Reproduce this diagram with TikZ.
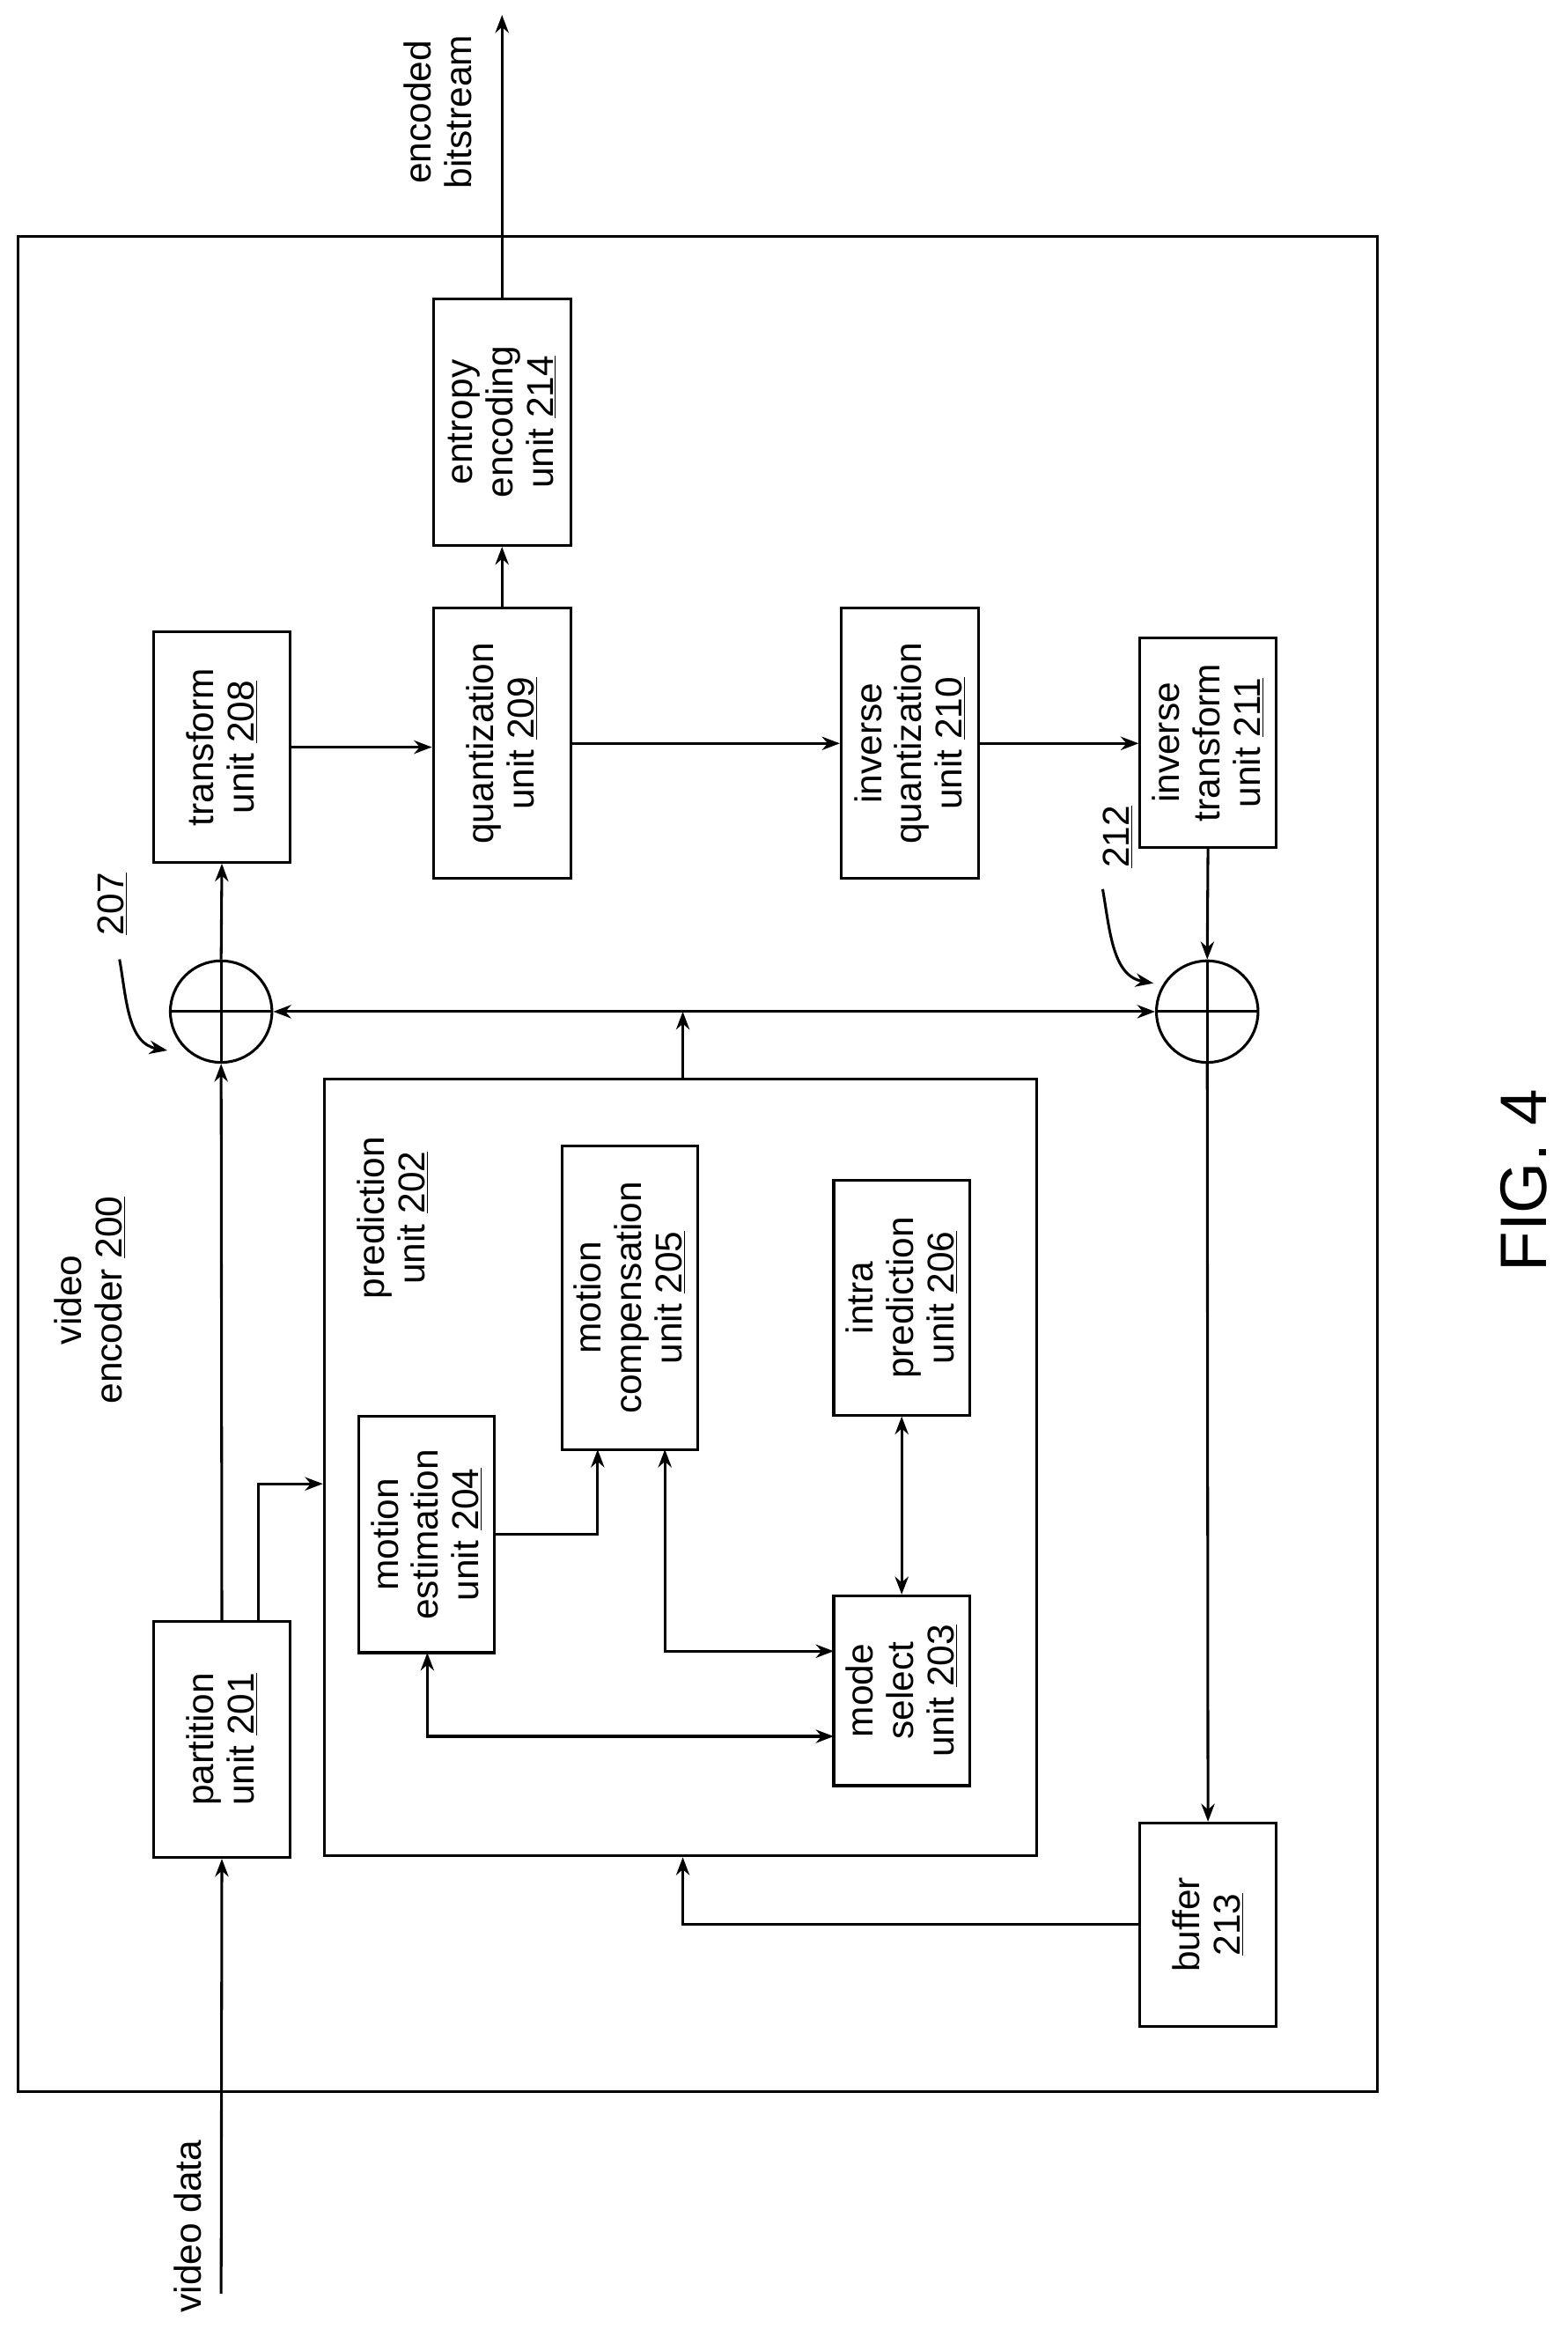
\documentclass[tikz,border=0pt]{standalone}
\usepackage{fontspec}
\setmainfont{Liberation Sans}
\usetikzlibrary{arrows.meta}
\begin{document}
\begin{tikzpicture}[x=1pt,y=-1pt,line width=1.8pt,
 >={Stealth[length=12pt,width=9pt]},
 box/.style={draw,rotate=90,align=center,font=\fontsize{25}{27}\selectfont,inner sep=2pt},
 lbl/.style={rotate=90,align=center,font=\fontsize{25}{27}\selectfont},
 sum/.style={draw,circle,minimum size=68pt,inner sep=0pt}]
\useasboundingbox (0,0) rectangle (1049,1568);
\node[draw,minimum width=910pt,minimum height=1242pt,inner sep=0] (enc) at (467,779) {};
\node[box,minimum width=158pt,minimum height=91pt] (p201) at (148.5,1164) {partition\\unit \underline{201}};
\node[box,minimum width=154pt,minimum height=91pt] (t208) at (148.5,500) {transform\\unit \underline{208}};
\node[box,minimum width=181pt,minimum height=92pt] (q209) at (336,497.5) {quantization\\unit \underline{209}};
\node[box,minimum width=165pt,minimum height=92pt] (e214) at (336,282.5) {entropy\\encoding\\unit \underline{214}};
\node[box,minimum width=181pt,minimum height=92pt] (iq210) at (609,497.5) {inverse\\quantization\\unit \underline{210}};
\node[box,minimum width=140pt,minimum height=91pt] (it211) at (808.5,497) {inverse\\transform\\unit \underline{211}};
\node[box,minimum width=136pt,minimum height=91pt] (b213) at (808.5,1288) {buffer\\\underline{213}};
\node[box,minimum width=520pt,minimum height=477pt,inner sep=0] (pred) at (455.5,982) {};
\node[lbl] (predl) at (263,815) {prediction\\unit \underline{202}};
\node[box,minimum width=158pt,minimum height=91pt] (me204) at (285.5,1027) {motion\\estimation\\unit \underline{204}};
\node[box,minimum width=203pt,minimum height=91pt] (mc205) at (421.5,868.5) {motion\\compensation\\unit \underline{205}};
\node[box,minimum width=157pt,minimum height=91pt] (ip206) at (603.5,868.5) {intra\\prediction\\unit \underline{206}};
\node[box,minimum width=127pt,minimum height=91pt] (ms203) at (603.5,1131.5) {mode\\select\\unit \underline{203}};
\node[sum] (s207) at (148,677) {};
\node[sum] (s212) at (808,677) {};
\draw (s207.north)--(s207.south) (s207.west)--(s207.east);
\draw (s212.north)--(s212.south) (s212.west)--(s212.east);
\node[lbl] (l207) at (75,605) {\underline{207}};
\node[lbl] (l212) at (748,560) {\underline{212}};
\node[lbl] (enl) at (60,870) {video\\encoder \underline{200}};
\node[lbl] (vdl) at (126,1490) {video data};
\node[lbl] (ebl) at (293,75) {encoded\\bitstream};
\node[rotate=90,font=\fontsize{44}{44}\selectfont] (fig) at (1020,790) {FIG. 4};
\coordinate (vin) at (148,1535);
\coordinate (eout) at (336,10);
\draw[->] (vin) -- (p201.west);
\draw[->] (p201.east) -- (s207.south);
\draw[->] (s207.north) -- (t208.west);
\draw[->] (173,1085) |- (pred.north |- 0,993);
\draw[->] (t208.south) -- (q209.north |- t208.south);
\draw[->] (q209.south) -- (iq210.north);
\draw[->] (iq210.south) -- (it211.north |- iq210.south);
\draw[->] (q209.east) -- (e214.west);
\draw[->] (e214.east) -- (eout);
\draw[->] (it211.west) -- (s212.north);
\draw[->] (s212.south) -- (b213.east);
\draw[->] (b213.north) -| (pred.west -| 457,0);
\draw[<->] (s207.east) -- (s212.west);
\draw[->] (pred.east -| 457,0) -- (457,677);
\draw[->] (me204.south) -| (400,970);
\draw[<->] (445,970) |- (558,1105);
\draw[<->] (286,1106) |- (558,1162);
\draw[<->] (ip206.west) -- (ms203.east);
\draw[->] (80,642) to[out=-80,in=170] (112,703);
\draw[->] (738,595) to[out=-80,in=170] (772,658);
\end{tikzpicture}
\end{document}
